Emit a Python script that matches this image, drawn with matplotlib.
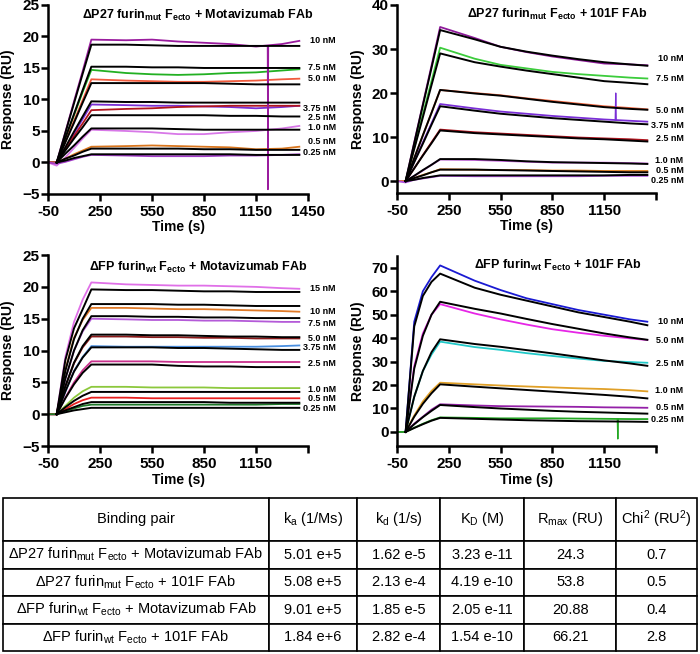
import matplotlib
matplotlib.use('Agg')
import matplotlib.pyplot as plt

plt.rcParams['font.family'] = ['Liberation Sans', 'DejaVu Sans']
plt.rcParams['font.weight'] = 'bold'
plt.rcParams['mathtext.default'] = 'regular'

# time points (s) at which the sensorgrams were read
T = [-50, 0, 50, 100, 150, 200, 400, 550, 700, 850, 1000, 1150, 1300, 1400]

# ---- panel A: dP27 furin_mut + Motavizumab
a_title = 'ΔP27 furin$_{mut}$ F$_{ecto}$ + Motavizumab FAb'
a_conc = ['10 nM', '7.5 nM', '5.0 nM', '3.75 nM', '2.5 nM', '1.0 nM', '0.5 nM', '0.25 nM']
a_colors = ['#9a1c9e', '#22b022', '#f05a3c', '#7a2fd6', '#b0141e', '#d878e8', '#d9761e', '#a23bc8']
a_data = [[0, 0, 4.8, 9.7, 14.5, 19.5, 19.4, 19.5, 19.2, 19.0, 18.8, 18.4, 18.8, 19.3],
          [0, 0, 3.8, 7.5, 11.2, 14.7, 14.2, 14.0, 13.9, 14.0, 14.2, 14.3, 14.6, 14.8],
          [0, 0, 3.3, 6.6, 9.9, 13.2, 13.0, 12.9, 12.8, 12.8, 12.9, 13.0, 13.2, 13.3],
          [0, 0, 2.3, 4.6, 6.9, 9.2, 9.1, 9.0, 9.0, 8.9, 8.8, 8.6, 8.8, 9.0],
          [0, 0, 2.1, 4.2, 6.2, 8.3, 8.5, 8.6, 8.8, 8.9, 9.0, 9.0, 9.0, 9.0],
          [0, -0.5, 0.8, 2.3, 3.8, 5.2, 5.0, 4.8, 4.5, 4.5, 4.8, 5.0, 5.4, 5.8],
          [0, 0, 0.6, 1.3, 1.9, 2.5, 2.6, 2.7, 2.6, 2.5, 2.4, 2.1, 2.2, 2.5],
          [0, -0.2, 0.1, 0.5, 0.9, 1.2, 1.1, 1.0, 1.0, 1.0, 1.1, 1.1, 1.2, 1.3]]
a_fit = [[0, 4.7, 9.4, 14.1, 18.7, 18.7, 18.6, 18.5, 18.5, 18.5, 18.5, 18.5, 18.5],
         [0, 3.9, 7.7, 11.5, 15.2, 15.2, 15.1, 15.1, 15.0, 15.0, 15.0, 15.0, 15.0],
         [0, 3.2, 6.3, 9.5, 12.6, 12.6, 12.6, 12.6, 12.6, 12.5, 12.4, 12.4, 12.4],
         [0, 2.4, 4.9, 7.3, 9.7, 9.6, 9.6, 9.5, 9.5, 9.5, 9.5, 9.5, 9.5],
         [0, 1.9, 3.8, 5.6, 7.5, 7.5, 7.5, 7.5, 7.5, 7.4, 7.4, 7.3, 7.3],
         [0, 1.4, 2.7, 4.1, 5.4, 5.4, 5.4, 5.3, 5.2, 5.2, 5.2, 5.2, 5.2],
         [0, 0.6, 1.1, 1.7, 2.2, 2.2, 2.2, 2.2, 2.1, 2.1, 2.0, 2.0, 2.0],
         [0, 0.3, 0.7, 1.0, 1.3, 1.3, 1.3, 1.3, 1.3, 1.3, 1.2, 1.2, 1.2]]
a_lab_y = [19.3, 15.0, 13.3, 8.6, 7.2, 5.6, 3.3, 1.6]
a_spike_t = [1216, 1219, 1222]
a_spike_y = [18.4, -4.3, 18.5]

# ---- panel B: dP27 furin_mut + 101F
b_title = 'ΔP27 furin$_{mut}$ F$_{ecto}$ + 101F FAb'
b_conc = ['10 nM', '7.5 nM', '5.0 nM', '3.75 nM', '2.5 nM', '1.0 nM', '0.5 nM', '0.25 nM']
b_colors = ['#8e1a9a', '#3ccc3c', '#f0643c', '#7a2fd6', '#b0141e', '#c860e0', '#e08020', '#b050e0']
b_data = [[0, 0, 8.8, 17.5, 26.2, 35.0, 32.5, 30.5, 29.3, 28.3, 27.5, 26.7, 26.5, 26.3],
          [0, 0, 7.6, 15.2, 22.7, 30.3, 27.8, 26.4, 25.6, 24.8, 24.3, 23.9, 23.5, 23.3],
          [0, 0, 5.2, 10.4, 15.5, 20.7, 20.0, 19.5, 18.8, 18.2, 17.6, 17.0, 16.6, 16.3],
          [0, 0, 4.4, 8.8, 13.1, 17.5, 16.5, 15.8, 15.3, 14.8, 14.4, 14.0, 13.7, 13.5],
          [0, 0, 2.9, 5.9, 8.8, 11.7, 11.1, 10.8, 10.5, 10.2, 9.9, 9.7, 9.5, 9.3],
          [0, 0, 1.2, 2.4, 3.7, 4.9, 4.8, 4.6, 4.4, 4.2, 4.2, 4.2, 4.1, 4.0],
          [0, 0, 0.7, 1.4, 2.0, 2.7, 2.6, 2.5, 2.5, 2.4, 2.4, 2.3, 2.3, 2.3],
          [0, -0.3, 0.3, 0.6, 0.9, 1.2, 1.1, 1.1, 1.1, 1.1, 1.1, 1.2, 1.2, 1.2]]
b_fit = [[0, 8.6, 17.2, 25.7, 34.3, 32.2, 30.5, 29.4, 28.5, 27.7, 27.0, 26.5, 26.2],
         [0, 7.3, 14.5, 21.8, 29.0, 27.0, 26.0, 25.1, 24.3, 23.5, 22.7, 22.3, 22.0],
         [0, 5.2, 10.4, 15.5, 20.7, 19.9, 19.4, 18.7, 18.0, 17.4, 16.8, 16.4, 16.2],
         [0, 4.3, 8.5, 12.8, 17.0, 16.0, 15.3, 14.8, 14.3, 13.9, 13.5, 13.1, 12.9],
         [0, 2.9, 5.8, 8.6, 11.5, 10.9, 10.6, 10.3, 10.0, 9.7, 9.5, 9.2, 9.0],
         [0, 1.2, 2.5, 3.7, 5.0, 5.0, 4.8, 4.5, 4.3, 4.2, 4.1, 4.0, 3.9],
         [0, 0.7, 1.3, 2.0, 2.6, 2.6, 2.5, 2.4, 2.3, 2.2, 2.1, 2.0, 2.0],
         [0, 0.3, 0.7, 1.0, 1.3, 1.3, 1.3, 1.3, 1.3, 1.3, 1.3, 1.4, 1.4]]
b_lab_y = [27.9, 23.3, 16.1, 12.7, 9.7, 4.6, 2.4, 0.2]
b_spike_t = [1214, 1217, 1220]
b_spike_y = [13.9, 20.0, 13.9]

# ---- panel C: dFP furin_wt + Motavizumab
c_title = 'ΔFP furin$_{wt}$ F$_{ecto}$ + Motavizumab FAb'
c_conc = ['15 nM', '10 nM', '7.5 nM', '5.0 nM', '3.75 nM', '2.5 nM', '1.0 nM', '0.5 nM', '0.25 nM']
c_colors = ['#e070e8', '#e07a28', '#b45ad8', '#8a1a1a', '#4a8fe0', '#c8308c', '#8cc83c', '#e8201e', '#1e7a2a']
c_data = [[0, 0, 9.0, 14.5, 18.0, 20.7, 20.4, 20.3, 20.2, 20.2, 20.1, 20.0, 19.8, 19.7],
          [0, 0, 7.0, 12.0, 14.8, 16.7, 16.7, 16.6, 16.5, 16.5, 16.4, 16.3, 16.2, 16.1],
          [0, 0, 5.5, 10.0, 13.0, 15.0, 14.9, 14.8, 14.8, 14.7, 14.7, 14.6, 14.5, 14.5],
          [0, 0, 4.3, 8.0, 10.5, 12.2, 12.2, 12.1, 12.1, 12.0, 12.0, 11.9, 11.9, 11.9],
          [0, 0, 3.5, 6.8, 9.0, 10.7, 10.6, 10.6, 10.6, 10.6, 10.6, 10.6, 10.7, 10.8],
          [0, 0, 2.6, 5.0, 6.9, 8.3, 8.3, 8.3, 8.2, 8.2, 8.2, 8.2, 8.2, 8.2],
          [0, 0, 1.3, 2.6, 3.6, 4.3, 4.3, 4.2, 4.2, 4.2, 4.1, 4.1, 4.1, 4.1],
          [0, 0, 0.8, 1.6, 2.2, 2.6, 2.6, 2.5, 2.5, 2.5, 2.5, 2.5, 2.5, 2.5],
          [0, 0, 0.5, 0.9, 1.3, 1.5, 1.5, 1.5, 1.5, 1.5, 1.5, 1.5, 1.6, 1.6]]
c_fit = [[0, 8.5, 13.5, 16.5, 19.6, 19.5, 19.5, 19.4, 19.3, 19.3, 19.2, 19.2, 19.2],
         [0, 6.8, 11.8, 15.0, 17.3, 17.3, 17.3, 17.2, 17.2, 17.1, 17.0, 17.0, 17.0],
         [0, 5.6, 10.0, 13.2, 15.4, 15.4, 15.3, 15.3, 15.2, 15.2, 15.1, 15.1, 15.1],
         [0, 4.4, 8.1, 10.7, 12.5, 12.5, 12.4, 12.4, 12.3, 12.2, 12.2, 12.1, 12.1],
         [0, 3.6, 6.7, 8.9, 10.5, 10.5, 10.5, 10.4, 10.4, 10.3, 10.2, 10.1, 10.1],
         [0, 2.5, 4.7, 6.5, 7.8, 7.8, 7.8, 7.6, 7.5, 7.5, 7.4, 7.4, 7.4],
         [0, 1.1, 2.1, 2.9, 3.5, 3.5, 3.5, 3.5, 3.5, 3.5, 3.5, 3.5, 3.5],
         [0, 0.6, 1.1, 1.6, 1.9, 1.9, 1.9, 1.9, 1.9, 1.8, 1.8, 1.8, 1.8],
         [0, 0.3, 0.6, 0.8, 1.0, 1.0, 1.0, 1.0, 1.0, 1.0, 1.0, 1.0, 1.0]]
c_lab_y = [19.8, 16.1, 14.2, 11.9, 10.4, 8.0, 3.9, 2.4, 0.9]

# ---- panel D: dFP furin_wt + 101F
d_title = 'ΔFP furin$_{wt}$ F$_{ecto}$ + 101F FAb'
d_conc = ['10 nM', '5.0 nM', '2.5 nM', '1.0 nM', '0.5 nM', '0.25 nM']
d_colors = ['#1a1ad2', '#e626e6', '#22c8c8', '#e0a028', '#9420a8', '#24a824']
d_data = [[0, 0, 47, 60, 66, 71, 64.5, 60.5, 57.0, 54.5, 52.0, 50.0, 48.0, 47.0],
          [0, 0, 28, 42, 50, 54.5, 50.5, 48.0, 45.8, 43.8, 42.3, 41.0, 39.9, 39.2],
          [0, 0, 15, 26, 33, 38.5, 36.2, 35.0, 33.6, 32.4, 31.3, 30.3, 29.8, 29.5],
          [0, 0, 7, 13, 17.5, 21, 20.3, 19.8, 19.4, 19.0, 18.6, 18.3, 17.8, 17.3],
          [0, 0, 3.5, 6.5, 9.5, 11.8, 11.3, 11.0, 10.9, 10.8, 10.7, 10.5, 10.4, 10.3],
          [0, 0, 1.8, 3.5, 5.0, 6.2, 6.0, 5.8, 5.8, 5.8, 5.7, 5.6, 5.5, 5.5]]
d_fit = [[0, 45, 58, 64, 67.5, 61.5, 58.5, 56.0, 53.5, 51.0, 49.0, 47.0, 45.5],
         [0, 27, 41, 50, 55.5, 52.5, 50.5, 48.2, 46.0, 44.0, 42.0, 40.3, 39.3],
         [0, 15, 26, 34, 39.5, 37.5, 36.3, 34.9, 33.5, 32.0, 30.5, 29.2, 28.2],
         [0, 6.5, 12, 16.5, 20.3, 19.3, 18.6, 17.9, 17.2, 16.5, 15.8, 15.0, 14.3],
         [0, 3.3, 6.3, 9.0, 11.5, 10.6, 10.0, 9.5, 9.0, 8.6, 8.3, 8.0, 7.8],
         [0, 1.7, 3.3, 4.8, 6.0, 5.6, 5.3, 5.0, 4.8, 4.6, 4.5, 4.4, 4.3]]
d_lab_y = [47.0, 39.2, 29.1, 17.5, 10.4, 5.4]
d_spike_t = [1226, 1229, 1232]
d_spike_y = [5.6, -3.0, 5.6]

# ---- table
col_labels = ['Binding pair', 'k$_a$ (1/Ms)', 'k$_d$ (1/s)', 'K$_D$ (M)',
              'R$_{max}$ (RU)', 'Chi$^2$ (RU$^2$)']
pairs = ['ΔP27 furin$_{mut}$ F$_{ecto}$ + Motavizumab FAb',
         'ΔP27 furin$_{mut}$ F$_{ecto}$ + 101F FAb',
         'ΔFP furin$_{wt}$ F$_{ecto}$ + Motavizumab FAb',
         'ΔFP furin$_{wt}$ F$_{ecto}$ + 101F FAb']
ka = ['5.01 e+5', '5.08 e+5', '9.01 e+5', '1.84 e+6']
kd = ['1.62 e-5', '2.13 e-4', '1.85 e-5', '2.82 e-4']
KD = ['3.23 e-11', '4.19 e-10', '2.05 e-11', '1.54 e-10']
rmax = ['24.3', '53.8', '20.88', '66.21']
chi2 = ['0.7', '0.5', '0.4', '2.8']

fig = plt.figure(figsize=(7, 6.54), dpi=100)

panels = [
    ([0.0686, 0.7034, 0.3714, 0.2890], (-5, 25), [-5, 0, 5, 10, 15, 20, 25], True,
     a_title, (0.577, 0.947), a_conc, a_colors, a_data, a_fit, a_lab_y, a_spike_t, a_spike_y, a_colors[0]),
    ([0.5671, 0.7049, 0.3700, 0.2875], (-2.7, 40), [0, 10, 20, 30, 40], False,
     b_title, (0.62, 0.947), b_conc, b_colors, b_data, b_fit, b_lab_y, b_spike_t, b_spike_y, b_colors[3]),
    ([0.0686, 0.3180, 0.3714, 0.2920], (-5, 25), [-5, 0, 5, 10, 15, 20, 25], False,
     c_title, (0.577, 0.937), c_conc, c_colors, c_data, c_fit, c_lab_y, None, None, None),
    ([0.5671, 0.3180, 0.3700, 0.2905], (-6, 75), [0, 10, 20, 30, 40, 50, 60, 70], False,
     d_title, (0.62, 0.953), d_conc, d_colors, d_data, d_fit, d_lab_y, d_spike_t, d_spike_y, d_colors[5]),
]

xt = [-50, 250, 550, 850, 1150, 1450]

for (rect, ylim, yt, last_lab, title, tpos, conc, cols, data, fit, lab_y,
     sp_t, sp_y, sp_c) in panels:
    ax = fig.add_axes(rect)
    for y, c in zip(data, cols):
        ax.plot(T, y, color=c, lw=1.3)
    if sp_t is not None:
        ax.plot(sp_t, sp_y, color=sp_c, lw=0.9)
    for y in fit:
        ax.plot(T[1:], y, color='black', lw=1.4)
    for lab, y in zip(conc, lab_y):
        ax.text(1610, y, lab, ha='right', va='center', fontsize=6.5, fontweight='bold', clip_on=False)
    ax.text(tpos[0], tpos[1], title, transform=ax.transAxes, ha='center', va='center',
            fontsize=9, fontweight='bold')
    ax.set_xlim(-50, 1450)
    ax.set_ylim(*ylim)
    ax.set_yticks(yt)
    ax.set_xticks(xt)
    ax.set_xticklabels([str(v) for v in xt[:-1]] + (['1450'] if last_lab else ['']))
    for s in ['top', 'right']:
        ax.spines[s].set_visible(False)
    for s in ['left', 'bottom']:
        ax.spines[s].set_linewidth(1.8)
    ax.tick_params(axis='both', direction='out', length=5, width=1.8, labelsize=11)
    ax.tick_params(axis='x', pad=3)
    ax.tick_params(axis='y', pad=1)
    ax.set_xlabel('Time (s)', fontsize=10, fontweight='bold', labelpad=1)
    ax.set_ylabel('Response (RU)', fontsize=10, fontweight='bold', labelpad=5)

# table
tax = fig.add_axes([3 / 700, 1 - 651 / 654, 694 / 700, 153 / 654])
tax.axis('off')
rows = [[p, a, b, c, d, e] for p, a, b, c, d, e in zip(pairs, ka, kd, KD, rmax, chi2)]
widths = [266, 89, 83, 84, 92, 81]
tbl = tax.table(cellText=rows, colLabels=col_labels, colWidths=[w / sum(widths) for w in widths],
                cellLoc='center', bbox=[0, 0, 1, 1])
tbl.auto_set_font_size(False)
for (r, c), cell in tbl.get_celld().items():
    cell.set_height(43 if r == 0 else 27.5)
    cell.set_linewidth(1.2)
    cell.set_text_props(fontsize=10.5, fontweight='normal')

fig.savefig('out.png', dpi=100)
